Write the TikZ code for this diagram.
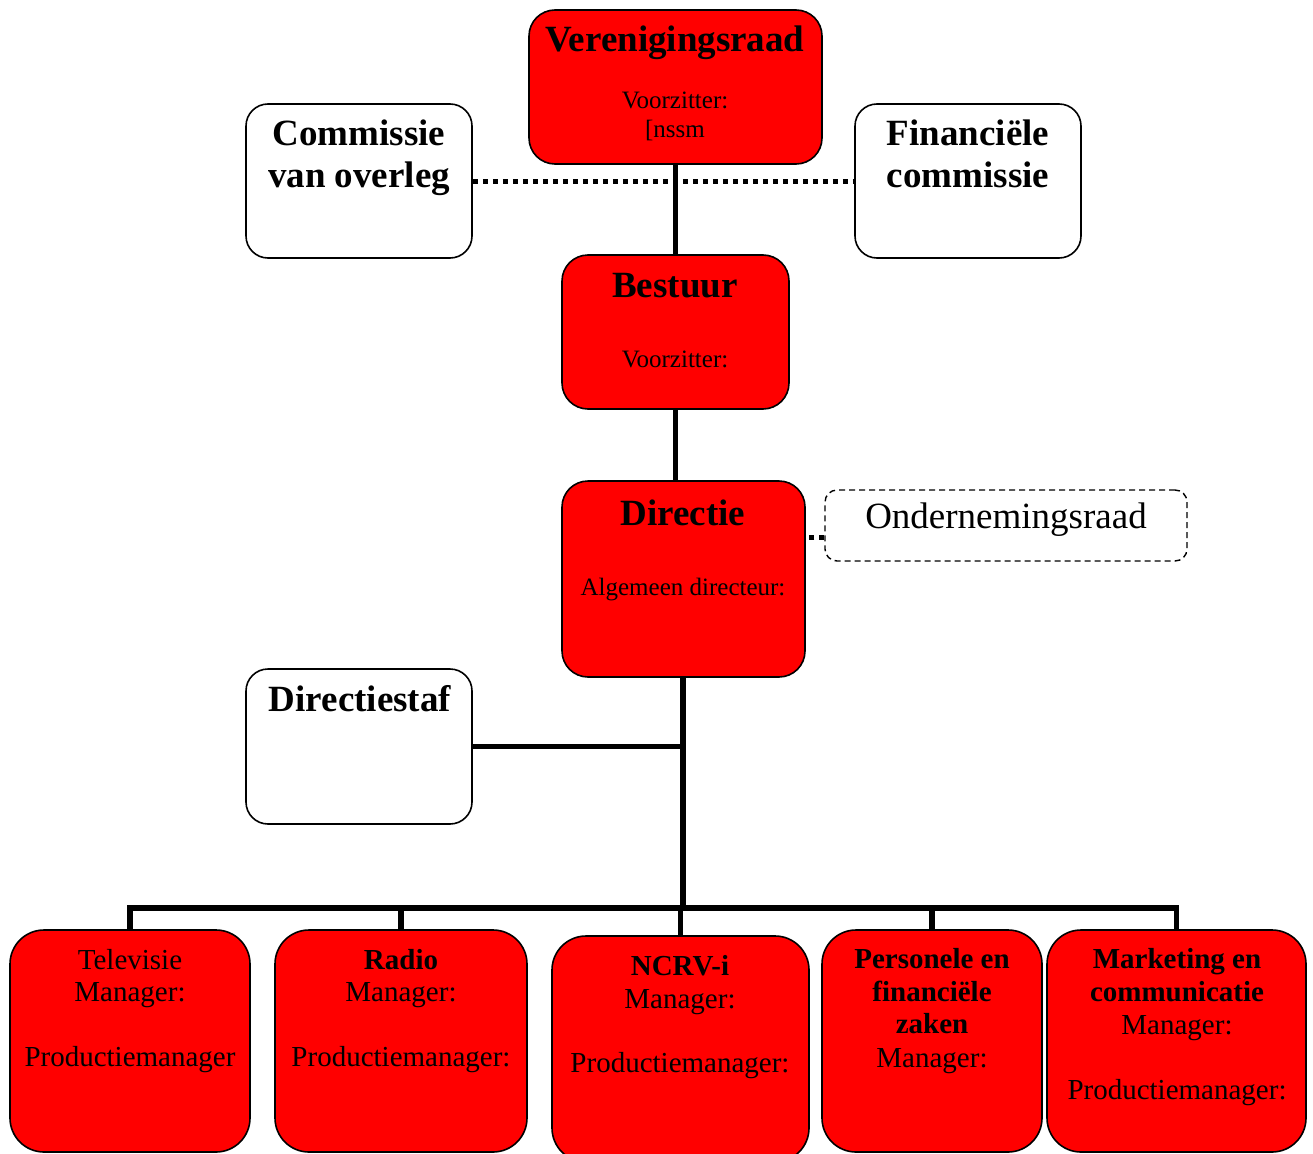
\documentclass[tikz,border=0pt]{standalone}
\usepackage{fontspec}
\setmainfont{Liberation Serif}
\begin{document}
\begin{tikzpicture}[x=1pt,y=-1pt,
 redbox/.style={draw=black, line width=1.6pt, fill=red, rounded corners=26pt, inner sep=0pt},
 lowbox/.style={redbox, rounded corners=34pt},
 whitebox/.style={draw=black, line width=1.6pt, fill=white, rounded corners=22pt, inner sep=0pt},
 dashbox/.style={draw=black, line width=1.4pt, dash pattern=on 6pt off 4pt, rounded corners=12pt, inner sep=0pt},
 conn/.style={line width=5.5pt},
 dotconn/.style={line width=5pt, dash pattern=on 5pt off 5pt},
 big/.style={anchor=base, inner sep=0pt, font=\fontsize{37}{41}\selectfont\bfseries},
 bigreg/.style={anchor=base, inner sep=0pt, font=\fontsize{37}{41}\selectfont},
 small/.style={anchor=base, inner sep=0pt, font=\fontsize{25}{28}\selectfont},
 low/.style={anchor=base, inner sep=0pt, font=\fontsize{29}{32}\selectfont},
 lowb/.style={anchor=base, inner sep=0pt, font=\fontsize{29}{32}\selectfont\bfseries}
]
\useasboundingbox (0,0) rectangle (1313,1153);

% boxes
\node[redbox, minimum width=293pt, minimum height=154pt] (ver) at (675.5,87) {};
\node[whitebox, minimum width=226pt, minimum height=154pt] (com) at (359,181) {};
\node[whitebox, minimum width=226pt, minimum height=154pt] (fin) at (968,181) {};
\node[redbox, minimum width=227pt, minimum height=154pt] (bes) at (675.5,332) {};
\node[redbox, minimum width=243pt, minimum height=196pt] (dir) at (683.5,579) {};
\node[dashbox, minimum width=362pt, minimum height=71pt] (onr) at (1006,525.5) {};
\node[whitebox, minimum width=226pt, minimum height=155pt] (staf) at (359,746.5) {};
\node[lowbox, minimum width=240pt, minimum height=222pt] (tv) at (130,1041) {};
\node[lowbox, minimum width=252pt, minimum height=222pt] (rad) at (401,1041) {};
\node[lowbox, minimum width=257pt, minimum height=226pt] (ncrv) at (680.5,1049) {};
\node[lowbox, minimum width=220pt, minimum height=222pt] (pers) at (932,1041) {};
\node[lowbox, minimum width=259pt, minimum height=222pt] (mark) at (1176.5,1041) {};

% connectors
\coordinate (hub) at (683,908);
\draw[conn] (ver.south) -- (bes.north);
\draw[conn] (bes.south) -- (bes.south |- dir.north);
\draw[dotconn] (com.east) -- (fin.west);
\draw[dotconn] ([yshift=-12pt]onr.west) -- ([yshift=-12pt]onr.west -| dir.east);
\draw[conn] (staf.east) -- (staf.east -| hub);
\draw[conn] (dir.south -| hub) -- (hub);
\draw[conn] (tv.north) |- (hub);
\draw[conn] (rad.north) |- (hub);
\draw[conn] (ncrv.north) |- (hub);
\draw[conn] (pers.north) |- (hub);
\draw[conn] (mark.north) |- (hub);

% texts
\node[big] (t1) at (675,52) {Verenigingsraad};
\node[small] (t2) at (675,109) {Voorzitter:};
\node[small] (t3) at (675,137) {[nssm};
\node[big] (t4) at (359,146) {Commissie};
\node[big] (t5) at (359,187) {van overleg};
\node[big] (t6) at (968,146) {Financiële};
\node[big] (t7) at (968,187) {commissie};
\node[big] (t8) at (675,297) {Bestuur};
\node[small] (t9) at (675,367) {Voorzitter:};
\node[big] (t10) at (683,525) {Directie};
\node[small] (t11) at (683,595) {Algemeen directeur:};
\node[bigreg] (t12) at (1006,528) {Ondernemingsraad};
\node[big] (t13) at (360,711) {Directiestaf};

\node[low] (b1) at (130,969) {Televisie};
\node[low] (b2) at (130,1001) {Manager:};
\node[low] (b3) at (130,1066) {Productiemanager};

\node[lowb] (b4) at (401,969) {Radio};
\node[low] (b5) at (401,1001) {Manager:};
\node[low] (b6) at (401,1066) {Productiemanager:};

\node[lowb] (b7) at (680,975) {NCRV-i};
\node[low] (b8) at (680,1008) {Manager:};
\node[low] (b9) at (680,1072) {Productiemanager:};

\node[lowb] (b10) at (932,968) {Personele en};
\node[lowb] (b11) at (932,1001) {financiële};
\node[lowb] (b12) at (932,1033) {zaken};
\node[low] (b13) at (932,1067) {Manager:};

\node[lowb] (b14) at (1177,968) {Marketing en};
\node[lowb] (b15) at (1177,1001) {communicatie};
\node[low] (b16) at (1177,1034) {Manager:};
\node[low] (b17) at (1177,1099) {Productiemanager:};
\end{tikzpicture}
\end{document}
